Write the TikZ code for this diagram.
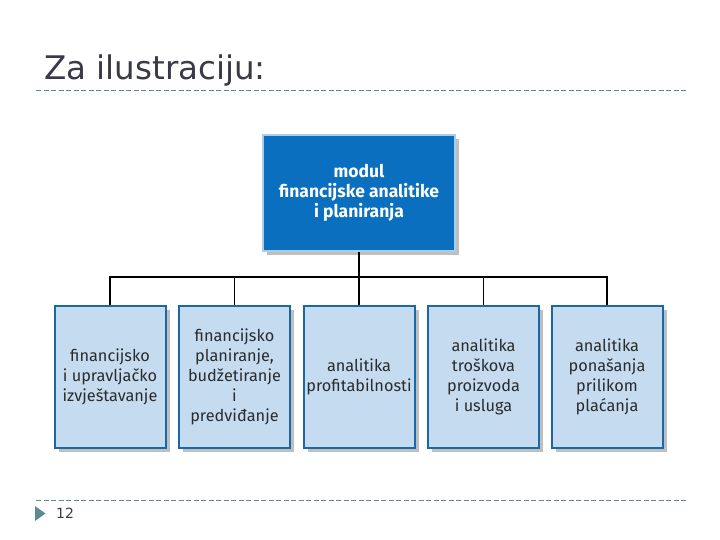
\documentclass[tikz,border=0pt]{standalone}
\usepackage{fontspec}
\setmainfont{DejaVu Sans}
\newfontfamily\boxfont{Fira Sans}
\usetikzlibrary{shadows}

\definecolor{titlegray}{HTML}{3A3A46}
\definecolor{rulecol}{HTML}{5E8A92}
\definecolor{modblue}{HTML}{0B6FC0}
\definecolor{modedge}{HTML}{A9CDEA}
\definecolor{subfill}{HTML}{C5DCF0}
\definecolor{subedge}{HTML}{1A68A8}
\definecolor{boxtext}{HTML}{2B2B2B}

\begin{document}
\begin{tikzpicture}[x=1pt, y=-1pt,
  shade/.style={drop shadow={shadow xshift=4pt, shadow yshift=-4pt, fill=black!25, opacity=1}},
  topbox/.style={shade, draw=modedge, line width=2pt, fill=modblue, text=white,
    minimum width=192pt, minimum height=116pt, align=center,
    font=\boxfont\bfseries\fontsize{17.5}{19.8}\selectfont},
  subbox/.style={shade, draw=subedge, line width=2pt, fill=subfill, text=boxtext,
    minimum width=111pt, minimum height=142pt, align=center, inner sep=1pt,
    font=\boxfont\fontsize{16.3}{20}\selectfont},
  rule/.style={rulecol, line width=0.8pt, dash pattern=on 5pt off 2.5pt},
  link/.style={line width=1.6pt}]

\useasboundingbox (0,0) rectangle (720,540);

% Title and rules
\node[anchor=base west, text=titlegray, inner sep=0pt, font=\fontsize{32.5}{36}\selectfont] (title) at (44,80) {Za ilustraciju:};
\draw[rule] (36,90) -- (686,90);
\draw[rule] (36,500) -- (686,500);
\fill[rulecol] (35,506) -- (45.5,513.5) -- (35,521) -- cycle;
\node[anchor=base west, text=titlegray, inner sep=0pt, font=\fontsize{14}{16}\selectfont] (page) at (56,518) {12};

% Nodes
\node[topbox] (modul) at (359,193) {modul\\financijske analitike\\i planiranja};
\node[subbox] (izv)  at (110,376.5) {financijsko\\i upravljačko\\izvještavanje};
\node[subbox] (plan) at (234.5,376.5) {financijsko\\planiranje,\\budžetiranje\\i\\predviđanje};
\node[subbox] (prof) at (359,376.5) {analitika\\profitabilnosti};
\node[subbox] (tros) at (483.5,376.5) {analitika\\troškova\\proizvoda\\i usluga};
\node[subbox] (plac) at (607,376.5) {analitika\\ponašanja\\prilikom\\plaćanja};

% Tree
\coordinate (bus) at (359,277);
\draw[link] (modul.south) -- (bus);
\foreach \n in {izv,plan,prof,tros,plac}
  \draw[link] (bus) -| (\n.north);

\end{tikzpicture}
\end{document}
